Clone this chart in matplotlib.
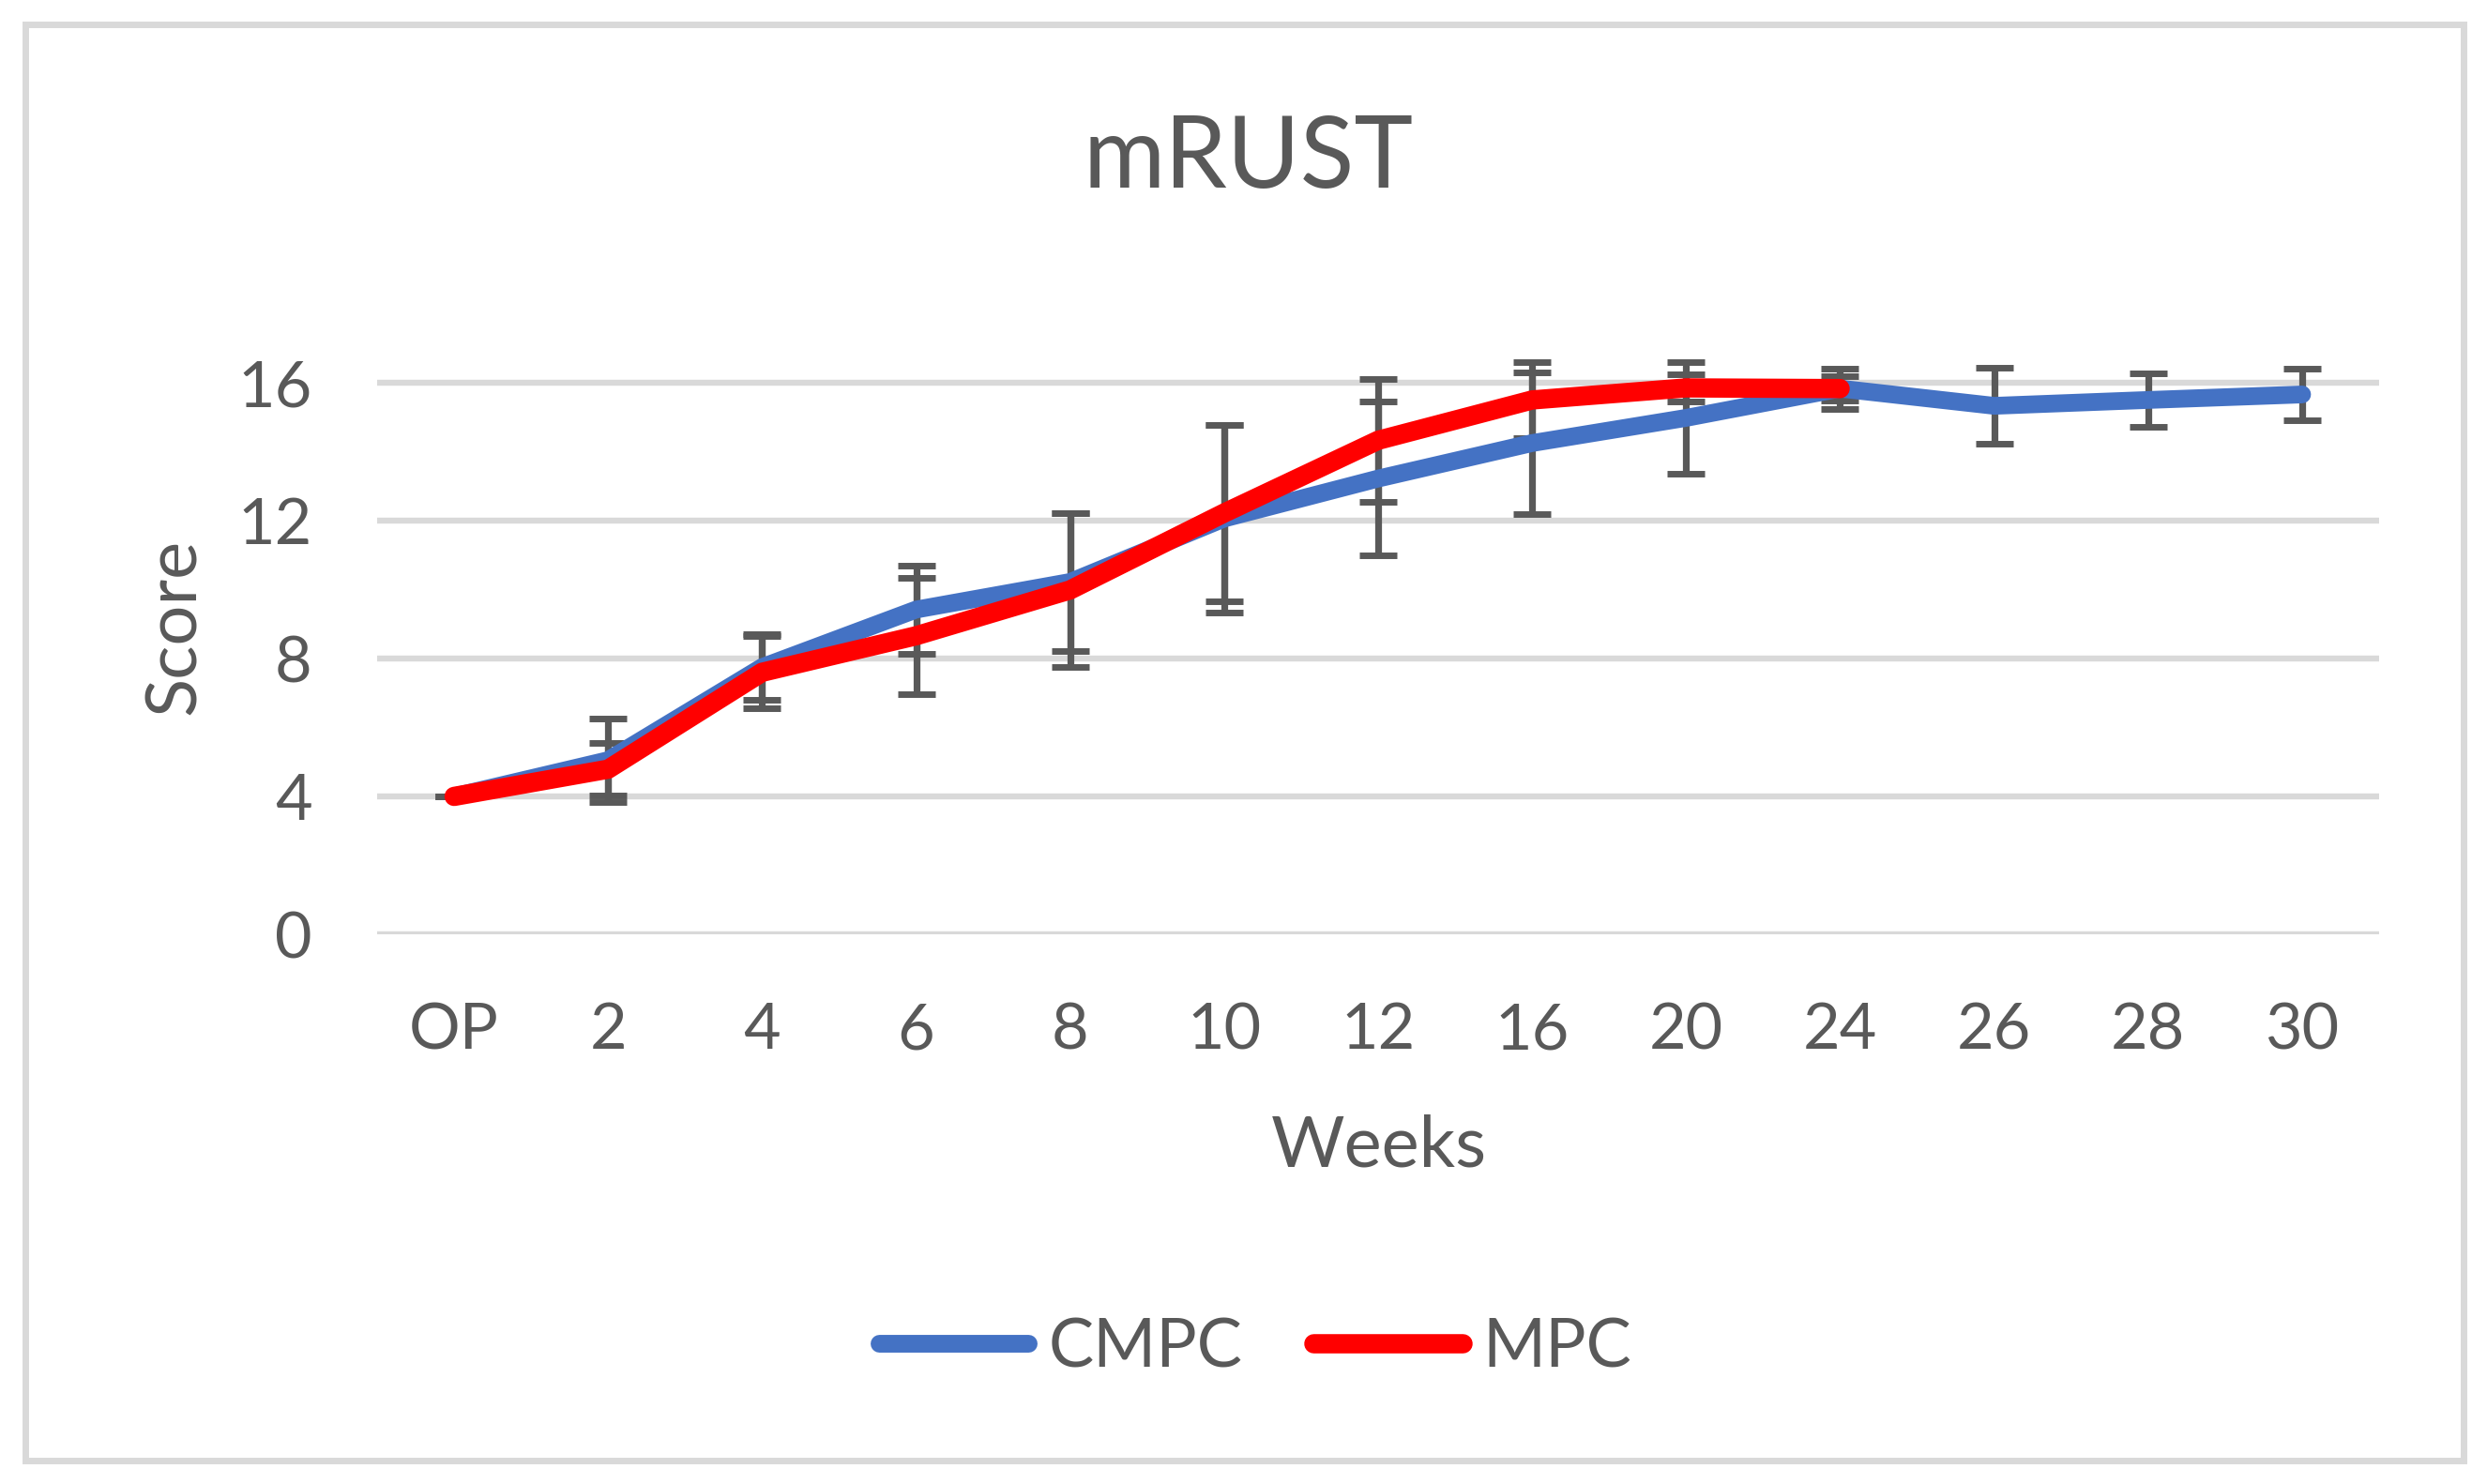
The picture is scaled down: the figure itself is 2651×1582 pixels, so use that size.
import matplotlib
matplotlib.use("Agg")
import matplotlib.pyplot as plt
from matplotlib.patches import Rectangle
import numpy as np

# mRUST score per follow-up week
weeks = ["OP", "2", "4", "6", "8", "10", "12", "16", "20", "24", "26", "28", "30"]
cmpc_mean = [4.0, 5.05, 7.75, 9.42, 10.22, 12.06, 13.22, 14.25, 14.98, 15.83, 15.33, 15.5, 15.66]
cmpc_sd = [0.0, 1.2, 0.95, 1.28, 2.0, 2.72, 2.23, 2.05, 1.62, 0.58, 1.1, 0.77, 0.75]
mpc_mean = [4.0, 4.79, 7.6, 8.66, 9.99, 12.22, 14.33, 15.5, 15.85, 15.83]
mpc_sd = [0.0, 0.76, 1.05, 1.69, 2.23, 2.56, 1.79, 1.1, 0.4, 0.35]

plt.rcParams['font.family'] = ['Lato', 'DejaVu Sans']
txt_color = '#595959'
blue = '#4472C4'
red = '#FF0000'
grid_color = '#D9D9D9'

W, H = 2651, 1582
fig = plt.figure(figsize=(W / 200, H / 200), dpi=200)
ax = fig.add_axes([402 / W, 1 - 996 / H, (2536 - 402) / W, (996 - 334.5) / H])

x_cmpc = np.arange(len(cmpc_mean))
x_mpc = np.arange(len(mpc_mean))

# error bars sit under the lines
ax.errorbar(x_cmpc, cmpc_mean, yerr=cmpc_sd, fmt='none', ecolor=txt_color,
            elinewidth=2.6, capsize=7.3, capthick=2.5, zorder=2)
ax.errorbar(x_mpc, mpc_mean, yerr=mpc_sd, fmt='none', ecolor=txt_color,
            elinewidth=2.6, capsize=7.3, capthick=2.5, zorder=2)

ax.plot(x_cmpc, cmpc_mean, color=blue, lw=6.8, solid_capstyle='round',
        solid_joinstyle='round', label='CMPC', zorder=3)
ax.plot(x_mpc, mpc_mean, color=red, lw=7.4, solid_capstyle='round',
        solid_joinstyle='round', label='MPC', zorder=4)

ax.set_xlim(-0.5, len(weeks) - 0.5)
ax.set_ylim(0, 18)
ax.set_yticks([0, 4, 8, 12, 16])
ax.set_xticks(x_cmpc)
ax.set_xticklabels(weeks)
ax.yaxis.grid(True, color=grid_color, lw=2.3)
ax.set_axisbelow(True)
for s in ax.spines.values():
    s.set_visible(False)
ax.tick_params(axis='both', length=0, labelsize=24.6, labelcolor=txt_color)
ax.tick_params(axis='x', pad=26)
ax.tick_params(axis='y', pad=25)

fig.text(1331 / W, 1 - 200 / H, "mRUST", ha='center', va='baseline',
         fontsize=38.2, color=txt_color)
fig.text(1470 / W, 1 - 1243 / H, "Weeks", ha='center', va='baseline',
         fontsize=27.3, color=txt_color)
fig.text(186 / W, 1 - 668 / H, "Score", ha='center', va='center', rotation=90,
         fontsize=27.3, color=txt_color)

leg = fig.legend(loc='center', bbox_to_anchor=(1338 / W, 1 - 1437 / H), ncol=2,
                 frameon=False, fontsize=26, handlelength=2.2,
                 handletextpad=0.3, columnspacing=1.05, borderpad=0)
for t in leg.get_texts():
    t.set_color(txt_color)

fig.patches.append(Rectangle((27 / W, 1 - 1557 / H), (2626 - 27) / W, (1557 - 26) / H,
                             transform=fig.transFigure, fill=False,
                             edgecolor=grid_color, lw=2.5))

fig.savefig("out.png", dpi=200)
